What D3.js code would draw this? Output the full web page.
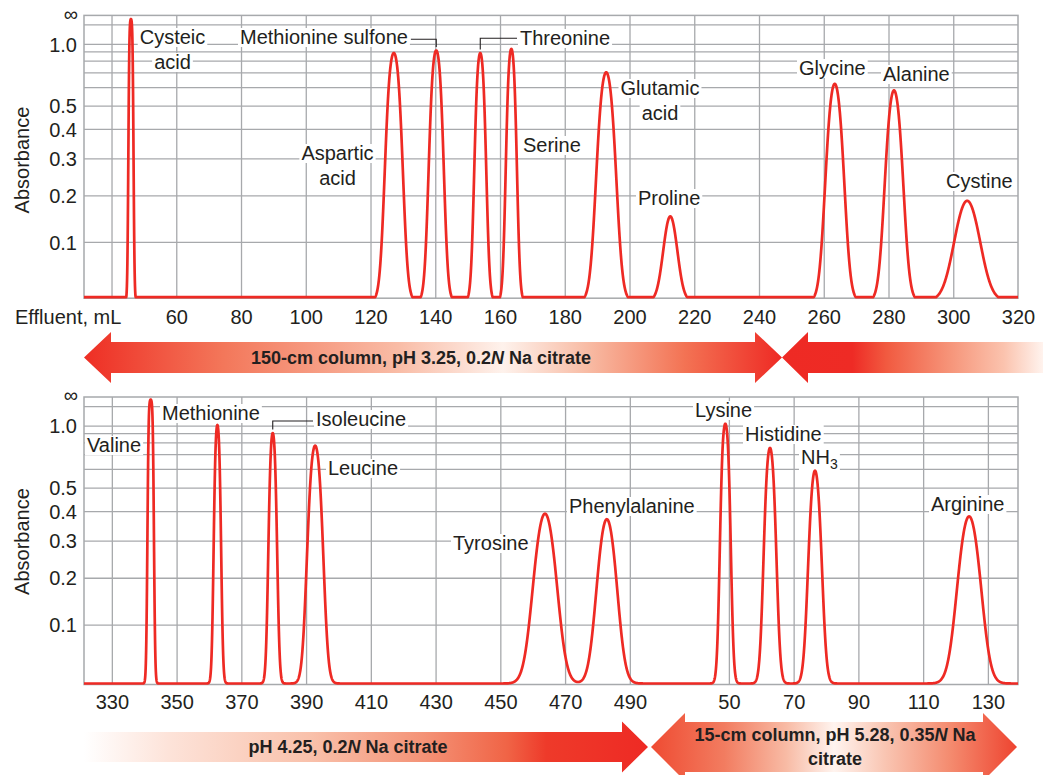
<!DOCTYPE html>
<html>
<head>
<meta charset="utf-8">
<script src="https://cdn.jsdelivr.net/npm/d3@7"></script>
<style>
  body { margin: 0; background: #fff; }
  svg { display: block; }
  text { font-family: "Liberation Sans", Arial, Helvetica, sans-serif; fill: #231f20; }
</style>
</head>
<body>
<svg id="chart" width="1043" height="775"></svg>
<script>
// ---------------- data ----------------
// First buffer run (pH 3.25): eluted peaks, effluent volume in mL
const acidicNames   = ["Cysteic acid", "Aspartic acid", "Methionine sulfone", "Threonine", "Serine",
                       "Glutamic acid", "Proline", "Glycine", "Alanine", "Cystine"];
const acidicCenters = [46.0, 127.2, 140.3, 153.9, 163.5, 192.8, 212.6, 263.4, 281.7, 304.3];
const acidicHeights = [1.9, 0.88, 0.91, 0.88, 0.93, 0.70, 0.152, 0.62, 0.58, 0.187];   // absorbance
const acidicWidths  = [0.42, 1.8, 1.5, 1.2, 1.1, 2.15, 2.0, 2.1, 2.1, 3.6];             // peak sigma, mL

// Second buffer run (pH 4.25)
const neutralNames   = ["Valine", "Methionine", "Isoleucine", "Leucine", "Tyrosine", "Phenylalanine"];
const neutralCenters = [342.0, 362.6, 379.7, 392.8, 463.8, 482.9];
const neutralHeights = [2.05, 1.01, 0.90, 0.77, 0.39, 0.37];
const neutralWidths  = [0.52, 0.72, 0.88, 1.7, 3.0, 2.6];

// Short column (pH 5.28)
const basicNames   = ["Lysine", "Histidine", "NH3", "Arginine"];
const basicCenters = [48.9, 62.7, 76.6, 124.2];
const basicHeights = [1.03, 0.75, 0.59, 0.38];
const basicWidths  = [1.05, 1.35, 1.55, 3.0];

// axis ticks
const absTickLabels = [0.1, 0.2, 0.3, 0.4, 0.5, 1.0];
const absGridLines  = [0.1, 0.2, 0.3, 0.4, 0.5, 0.6, 0.7, 0.8, 0.9, 1.0, 1.5];
const topXTicks     = [60, 80, 100, 120, 140, 160, 180, 200, 220, 240, 260, 280, 300, 320];
const topXGrid      = [40, 60, 80, 100, 120, 140, 160, 180, 200, 220, 240, 260, 280, 300];
const lowXTicksA    = [330, 350, 370, 390, 410, 430, 450, 470, 490];
const lowXTicksB    = [50, 70, 90, 110, 130];

// buffer annotations
const bufferTexts = [
  [["150-cm column, pH 3.25, 0.2", false], ["N", true], [" Na citrate", false]],
  [["pH 4.25, 0.2", false], ["N", true], [" Na citrate", false]],
  [["15-cm column, pH 5.28, 0.35", false], ["N", true], [" Na", false]],
  [["citrate", false]]
];

// ---------------- layout ----------------
const plotLeft = 84, plotRight = 1018, breakX = 680;
const panelTop = { top: 15.4, base: 297.2, bottom: 298.2 };
const panelLow = { top: 397, base: 683.5, bottom: 684.5 };
const gridColor = "#a7a9ac", traceColor = "#ee2a24", inkColor = "#231f20";
const fontMain = 20;

const xTop  = d3.scaleLinear().domain([31.5, 320]).range([plotLeft, plotRight]);
const xLowA = d3.scaleLinear().domain([321.4, 505.5]).range([plotLeft, breakX]);
const xLowB = d3.scaleLinear().domain([34.9, 139.3]).range([breakX, plotRight]);

// absorbance axis is linear in transmittance T = 10^-A (A = ∞ at the top)
const toT = a => Math.pow(10, -a);
const tTop = d3.scaleLinear().domain([0, 0.988]).range([panelTop.top, panelTop.base]).clamp(true);
const tLow = d3.scaleLinear().domain([0, 1]).range([panelLow.top, panelLow.base]).clamp(true);

const svg = d3.select("#chart");

// ---------------- helpers ----------------
function absorbanceAt(x, centers, heights, widths) {
  let a = 0;
  for (let i = 0; i < centers.length; i++) {
    const z = (x - centers[i]) / widths[i];
    a += heights[i] * Math.exp(-0.5 * z * z);
  }
  return a;
}

function tracePoints(xScale, tScale, centers, heights, widths) {
  const [d0, d1] = xScale.domain();
  return d3.range(d0, d1 + 0.025, 0.05).map(x =>
    [xScale(x), tScale(toT(absorbanceAt(x, centers, heights, widths)))]);
}

function styleGrid(g) {
  g.select(".domain").remove();
  g.selectAll("line").attr("stroke", gridColor).attr("stroke-width", 1.3);
}

function drawGrid(tScale, xScales, panel) {
  const g = svg.append("g");
  g.append("g")
    .attr("transform", `translate(${plotLeft},0)`)
    .call(d3.axisLeft(tScale).tickValues(absGridLines.map(toT))
      .tickSize(-(plotRight - plotLeft)).tickFormat(""))
    .call(styleGrid);
  xScales.forEach(([xs, vals]) => {
    g.append("g")
      .attr("transform", `translate(0,${panel.bottom})`)
      .call(d3.axisBottom(xs).tickValues(vals)
        .tickSize(-(panel.bottom - panel.top)).tickFormat(""))
      .call(styleGrid);
  });
}

function drawFrame(panel) {
  svg.append("rect")
    .attr("x", plotLeft).attr("y", panel.top)
    .attr("width", plotRight - plotLeft).attr("height", panel.bottom - panel.top)
    .attr("fill", "none").attr("stroke", gridColor).attr("stroke-width", 1.5);
}

function styleTickText(g, dy) {
  g.select(".domain").remove();
  g.attr("font-size", fontMain).attr("font-family", null);
  g.selectAll("text").attr("fill", inkColor);
  if (dy) g.selectAll("text").attr("dy", dy);
}

function drawYAxis(tScale, panel, infY, titleY) {
  svg.append("g")
    .attr("transform", `translate(${plotLeft},0)`)
    .call(d3.axisLeft(tScale).tickValues(absTickLabels.map(toT))
      .tickSize(0).tickPadding(7)
      .tickFormat(t => (-Math.log10(t)).toFixed(1)))
    .call(g => styleTickText(g, "0.36em"));
  svg.append("text").attr("x", plotLeft - 6).attr("y", infY)
    .attr("text-anchor", "end").attr("font-size", fontMain).text("\u221E");
  svg.append("text")
    .attr("transform", `translate(29,${titleY}) rotate(-90)`)
    .attr("text-anchor", "middle").attr("font-size", fontMain).text("Absorbance");
}

function drawTrace(points) {
  svg.append("path")
    .attr("d", d3.line()(points))
    .attr("fill", "none").attr("stroke", traceColor)
    .attr("stroke-width", 2.7).attr("stroke-linejoin", "round");
}

const labelGap = 25;
function placeLabel(spec) {
  const grp = svg.append("g");
  const texts = spec.lines.map((line, i) => {
    const t = grp.append("text")
      .attr("x", spec.x).attr("y", spec.y + i * labelGap)
      .attr("text-anchor", spec.anchor).attr("font-size", fontMain);
    if (line === "NH3") {
      t.append("tspan").text("NH");
      t.append("tspan").attr("font-size", 14).attr("dy", 5).text("3");
    } else {
      t.text(line);
    }
    return t;
  });
  texts.forEach(t => {
    const b = t.node().getBBox();
    grp.insert("rect", ":first-child")
      .attr("x", b.x - 2).attr("y", b.y + 2)
      .attr("width", b.width + 4).attr("height", b.height - 3)
      .attr("fill", "#fff");
  });
  return grp;
}

function peakTop(name) {
  let i = acidicNames.indexOf(name);
  if (i >= 0) return [xTop(acidicCenters[i]), tTop(toT(acidicHeights[i]))];
  i = neutralNames.indexOf(name);
  if (i >= 0) return [xLowA(neutralCenters[i]), tLow(toT(neutralHeights[i]))];
  i = basicNames.indexOf(name);
  return [xLowB(basicCenters[i]), tLow(toT(basicHeights[i]))];
}

// ---------------- label layout ----------------
const labelLayout = {
  "Cysteic acid":       { lines: ["Cysteic", "acid"],  x: 172.5, y: 44,  anchor: "middle" },
  "Methionine sulfone": { lines: ["Methionine sulfone"], x: 240,  y: 44,  anchor: "start" },
  "Threonine":          { lines: ["Threonine"],        x: 520,   y: 45,  anchor: "start" },
  "Aspartic acid":      { lines: ["Aspartic", "acid"], x: 337.5, y: 160, anchor: "middle" },
  "Serine":             { lines: ["Serine"],           x: 523,   y: 152, anchor: "start" },
  "Glutamic acid":      { lines: ["Glutamic", "acid"], x: 660,   y: 95,  anchor: "middle" },
  "Proline":            { lines: ["Proline"],          x: 638,   y: 205, anchor: "start" },
  "Glycine":            { lines: ["Glycine"],          x: 799,   y: 75,  anchor: "start" },
  "Alanine":            { lines: ["Alanine"],          x: 883,   y: 81,  anchor: "start" },
  "Cystine":            { lines: ["Cystine"],          x: 946,   y: 188, anchor: "start" },
  "Valine":             { lines: ["Valine"],           x: 87,    y: 452, anchor: "start" },
  "Methionine":         { lines: ["Methionine"],       x: 162,   y: 420, anchor: "start" },
  "Isoleucine":         { lines: ["Isoleucine"],       x: 316,   y: 426, anchor: "start" },
  "Leucine":            { lines: ["Leucine"],          x: 328,   y: 475, anchor: "start" },
  "Tyrosine":           { lines: ["Tyrosine"],         x: 453,   y: 550, anchor: "start" },
  "Phenylalanine":      { lines: ["Phenylalanine"],    x: 569,   y: 513, anchor: "start" },
  "Lysine":             { lines: ["Lysine"],           x: 695,   y: 417, anchor: "start" },
  "Histidine":          { lines: ["Histidine"],        x: 745,   y: 441, anchor: "start" },
  "NH3":                { lines: ["NH3"],              x: 801,   y: 464, anchor: "start" },
  "Arginine":           { lines: ["Arginine"],         x: 931,   y: 511, anchor: "start" }
};
const connectors = [
  { peak: "Methionine sulfone", side: "left",  elbowY: 39.3 },
  { peak: "Threonine",          side: "right", elbowY: 38.3 },
  { peak: "Isoleucine",         side: "right", elbowY: 421 }
];

const arrows = [
  { id: "bufA", x1: 84, x2: 782,
    stops: [[0, "#ee2e24"], [0.2, "#f3775a"], [0.45, "#f9bca6"], [0.6, "#fef2ec"], [0.72, "#f8bca5"], [0.86, "#f37354"], [1, "#ee2a24"]],
    pts: [[84, 357.5], [111, 332], [111, 342], [755, 342], [755, 332], [782, 357.5], [755, 383], [755, 373], [111, 373], [111, 383]] },
  { id: "bufB", x1: 782, x2: 1043,
    stops: [[0, "#ee2a24"], [0.27, "#ee2b25"], [0.4, "#f15a40"], [0.65, "#f6967b"], [0.85, "#fbc3ae"], [1, "#fff3ee"]],
    pts: [[782, 357.5], [808, 332], [808, 342], [1043, 342], [1043, 373], [808, 373], [808, 383]] },
  { id: "bufC", x1: 84, x2: 648,
    stops: [[0, "#ffffff"], [0.15, "#fde3d9"], [0.4, "#f9c1ab"], [0.6, "#f49377"], [0.75, "#f06446"], [0.82, "#ee3a2a"], [1, "#ee2a24"]],
    pts: [[84, 732], [622, 732], [622, 721.5], [648, 747], [622, 772.5], [622, 762], [84, 762]] },
  { id: "bufD", x1: 651, x2: 1017,
    stops: [[0, "#ef4b32"], [0.2, "#f27c60"], [0.37, "#f8bba5"], [0.5, "#fff4ef"], [0.64, "#f9c5b2"], [0.82, "#f48a6e"], [1, "#ee4430"]],
    pts: [[651, 747], [685, 713], [685, 722], [983, 722], [983, 713], [1017, 747], [983, 781], [983, 772], [685, 772], [685, 781]] }
];
const bufferTextPos = [
  { x: 421, y: 364 }, { x: 348, y: 753 }, { x: 835, y: 741 }, { x: 835, y: 765 }
];

// ---------------- draw ----------------
drawGrid(tTop, [[xTop, topXGrid]], panelTop);
drawGrid(tLow, [[xLowA, lowXTicksA], [xLowB, lowXTicksB]], panelLow);

// labels (white knock-outs over the grid)
const labelNodes = {};
Object.keys(labelLayout).forEach(k => { labelNodes[k] = placeLabel(labelLayout[k]); });

// leader lines from peaks to their labels
connectors.forEach(c => {
  const [px, py] = peakTop(c.peak);
  const b = labelNodes[c.peak].select("text").node().getBBox();
  const lx = c.side === "left" ? b.x + b.width + 3 : b.x - 3;
  svg.append("path")
    .attr("d", d3.line()([[lx, c.elbowY], [px, c.elbowY], [px, py - 3.5]]))
    .attr("fill", "none").attr("stroke", inkColor).attr("stroke-width", 1.1);
});

drawFrame(panelTop);
drawFrame(panelLow);

// x tick labels
svg.append("g").attr("transform", `translate(0,${panelTop.bottom})`)
  .call(d3.axisBottom(xTop).tickValues(topXTicks).tickSize(0).tickPadding(11.6).tickFormat(d3.format("d")))
  .call(g => styleTickText(g));
svg.append("text").attr("x", 15).attr("y", 324).attr("font-size", fontMain).text("Effluent, mL");
[[xLowA, lowXTicksA], [xLowB, lowXTicksB]].forEach(([xs, vals]) => {
  svg.append("g").attr("transform", `translate(0,${panelLow.bottom})`)
    .call(d3.axisBottom(xs).tickValues(vals).tickSize(0).tickPadding(10.4).tickFormat(d3.format("d")))
    .call(g => styleTickText(g));
});

// y axes
drawYAxis(tTop, panelTop, 21, 160);
drawYAxis(tLow, panelLow, 402, 541.5);

// chromatogram traces
drawTrace(tracePoints(xTop, tTop, acidicCenters, acidicHeights, acidicWidths));
drawTrace(tracePoints(xLowA, tLow, neutralCenters, neutralHeights, neutralWidths)
  .concat(tracePoints(xLowB, tLow, basicCenters, basicHeights, basicWidths)));

// buffer arrows
const defs = svg.append("defs");
arrows.forEach(a => {
  const grad = defs.append("linearGradient").attr("id", a.id)
    .attr("gradientUnits", "userSpaceOnUse")
    .attr("x1", a.x1).attr("x2", a.x2).attr("y1", 0).attr("y2", 0);
  a.stops.forEach(([o, c]) => grad.append("stop").attr("offset", o).attr("stop-color", c));
  svg.append("polygon")
    .attr("points", a.pts.map(p => p.join(",")).join(" "))
    .attr("fill", `url(#${a.id})`);
});
bufferTexts.forEach((segs, i) => {
  const t = svg.append("text")
    .attr("x", bufferTextPos[i].x).attr("y", bufferTextPos[i].y)
    .attr("text-anchor", "middle").attr("font-size", 18).attr("font-weight", "bold");
  segs.forEach(([s, ital]) => {
    const ts = t.append("tspan").text(s);
    if (ital) ts.attr("font-style", "italic");
  });
});
</script>
</body>
</html>
